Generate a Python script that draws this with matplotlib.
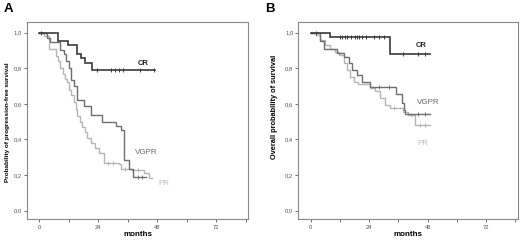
import matplotlib
matplotlib.use("Agg")
import matplotlib.pyplot as plt
import numpy as np

plt.rcParams['font.family'] = ['Liberation Sans', 'DejaVu Sans']

# ---------------- Data ----------------
# Panel A: progression-free survival
A_CR_t = [0, 7.5, 11.5, 15.5, 17, 18.5, 21.5]
A_CR_s = [1.0, 0.95, 0.93, 0.88, 0.855, 0.83, 0.79]
A_CR_end = 47.0
A_CR_cens = [0.5, 23.5, 29, 31, 32.5, 34, 41, 46.5]

A_VGPR_t = [0, 3, 4.5, 8.5, 10, 11, 12, 13, 14, 15.5, 18.2, 20.9, 25.7, 31.2, 33.2, 34.6, 36.4, 38]
A_VGPR_s = [1.0, 0.97, 0.945, 0.90, 0.88, 0.84, 0.80, 0.735, 0.70, 0.62, 0.586, 0.54, 0.50, 0.474, 0.455, 0.287, 0.235, 0.19]
A_VGPR_end = 43.5
A_VGPR_cens = [40, 42]

A_PR_t = [0, 2, 4, 6.6, 7.5, 8.5, 9.5, 10.5, 11.3, 12.2, 13, 14, 15, 15.5, 16.5, 17.5, 18.5, 19.5, 20.9, 22.5, 24.3, 26.4, 32.5, 33.2, 37.3, 42.8, 44.8]
A_PR_s = [1.0, 0.98, 0.91, 0.87, 0.84, 0.80, 0.77, 0.74, 0.72, 0.68, 0.65, 0.61, 0.57, 0.53, 0.50, 0.47, 0.44, 0.41, 0.38, 0.35, 0.325, 0.27, 0.26, 0.235, 0.23, 0.21, 0.185]
A_PR_end = 46.0
A_PR_cens = [28, 30, 35, 40]

# Panel B: overall survival
B_CR_t = [0, 8.1, 32.5]
B_CR_s = [1.0, 0.977, 0.88]
B_CR_end = 48.8
B_CR_cens = [2, 12, 13, 14, 15, 16.5, 18, 19, 20, 21, 22.5, 26, 28, 30, 38, 44, 47]

B_VGPR_t = [0, 4, 5.4, 10.8, 13.6, 15.6, 17, 19, 21, 24.4, 35.2, 37.3, 38.2, 38.6]
B_VGPR_s = [1.0, 0.955, 0.91, 0.885, 0.865, 0.83, 0.79, 0.763, 0.725, 0.697, 0.656, 0.604, 0.566, 0.544]
B_VGPR_end = 48.8
B_VGPR_cens = [28, 32, 44, 47]

B_PR_t = [0, 2, 4, 6, 8, 10, 11.5, 13.6, 15, 16.3, 17.6, 19.6, 24.4, 26.4, 28.5, 30.5, 32.5, 38, 40, 42.7]
B_PR_s = [1.0, 0.985, 0.96, 0.93, 0.91, 0.89, 0.875, 0.83, 0.79, 0.753, 0.725, 0.71, 0.69, 0.67, 0.632, 0.595, 0.576, 0.555, 0.538, 0.482]
B_PR_end = 48.8
B_PR_cens = [34, 41, 45, 47]

x_ticks = [0, 24, 48, 72]
x_minor = [12, 36, 60, 84]
y_ticks = [0.0, 0.2, 0.4, 0.6, 0.8, 1.0]
y_ticklabels = ["0,0", "0,2", "0,4", "0,6", "0,8", "1,0"]

C_CR, C_VGPR, C_PR = "#3a3a3a", "#6e6e6e", "#b4b4b4"


def surv_at(t, s, x):
    idx = np.searchsorted(t, x, side="right") - 1
    return np.asarray(s)[idx]


def km(ax, t, s, end, cens, color, lw):
    tt = list(t) + [end]
    ss = list(s) + [s[-1]]
    ax.step(tt, ss, where="post", color=color, lw=lw, solid_joinstyle="miter")
    cy = surv_at(t, s, np.array(cens))
    ax.plot(cens, cy, linestyle="none", marker="|", ms=2.2, mew=0.7, color=color)


fig = plt.figure(figsize=(5.2, 2.43), dpi=100)
axA = fig.add_axes([0.052, 0.097, 0.425, 0.813])
axB = fig.add_axes([0.574, 0.097, 0.422, 0.813])

for ax in (axA, axB):
    ax.set_xlim(-5, 85)
    ax.set_ylim(-0.049, 1.06)
    ax.set_xticks(x_ticks)
    ax.set_xticks(x_minor, minor=True)
    ax.set_xticklabels([str(v) for v in x_ticks])
    ax.set_yticks(y_ticks)
    ax.set_yticklabels(y_ticklabels)
    ax.tick_params(axis="both", which="both", direction="out", length=2.2, width=0.6,
                   colors="#555555", labelsize=4.2, pad=1.5)
    for sp in ax.spines.values():
        sp.set_color("#888888")
        sp.set_linewidth(0.8)
    ax.set_xlabel("months", fontsize=5.8, fontweight="bold", labelpad=0.8)

km(axA, A_PR_t, A_PR_s, A_PR_end, A_PR_cens, C_PR, 1.0)
km(axA, A_VGPR_t, A_VGPR_s, A_VGPR_end, A_VGPR_cens, C_VGPR, 1.0)
km(axA, A_CR_t, A_CR_s, A_CR_end, A_CR_cens, C_CR, 1.2)

km(axB, B_PR_t, B_PR_s, B_PR_end, B_PR_cens, C_PR, 1.0)
km(axB, B_VGPR_t, B_VGPR_s, B_VGPR_end, B_VGPR_cens, C_VGPR, 1.0)
km(axB, B_CR_t, B_CR_s, B_CR_end, B_CR_cens, C_CR, 1.2)

axA.text(42.1, 0.829, "CR", fontsize=5.5, fontweight="bold", color="#222222", ha="center", va="center")
axA.text(43.5, 0.327, "VGPR", fontsize=5.8, color="#666666", ha="center", va="center")
axA.text(50.9, 0.153, "PR", fontsize=5.8, color="#bbbbbb", ha="center", va="center")

axB.text(45.2, 0.927, "CR", fontsize=5.5, fontweight="bold", color="#222222", ha="center", va="center")
axB.text(48.1, 0.606, "VGPR", fontsize=5.8, color="#666666", ha="center", va="center")
axB.text(46.0, 0.376, "PR", fontsize=5.8, color="#bbbbbb", ha="center", va="center")

fig.text(8 / 520, 1 - 122 / 243, "Probability of progression-free survival", rotation=90,
         fontsize=4.6, fontweight="bold", ha="center", va="center")
fig.text(275 / 520, 1 - 107 / 243, "Overall probability of survival", rotation=90,
         fontsize=5.3, fontweight="bold", ha="center", va="center")

fig.text(8 / 520, 1 - 9 / 243, "A", fontsize=9.5, fontweight="bold", ha="center", va="center")
fig.text(270 / 520, 1 - 9 / 243, "B", fontsize=9.5, fontweight="bold", ha="center", va="center")

fig.savefig("out.png", dpi=100, facecolor="white")
